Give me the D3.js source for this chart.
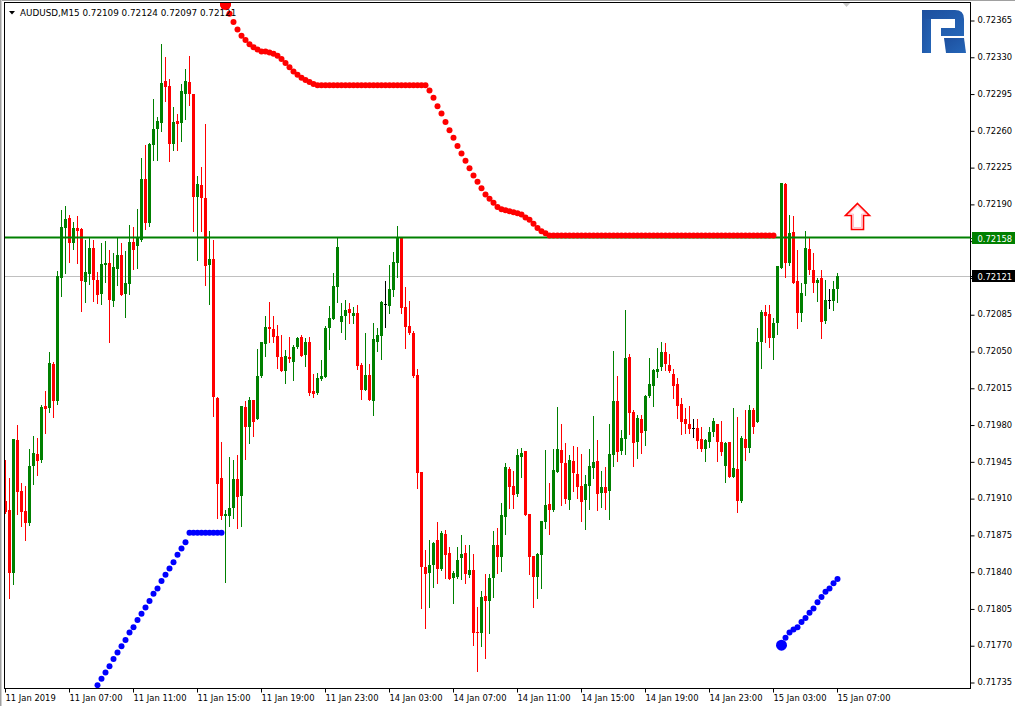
<!DOCTYPE html>
<html><head><meta charset="utf-8">
<script src="https://cdn.jsdelivr.net/npm/d3@7"></script>
<style>
html,body{margin:0;padding:0;background:#fff;}
svg{display:block;}
text{font-family:"DejaVu Sans",Verdana,sans-serif;}
</style></head>
<body>
<svg id="c" width="1015" height="706"></svg>
<script>
// ---- DATA ----
const symbolTitle = "AUDUSD,M15";
const headerValues = ["0.72109", "0.72124", "0.72097", "0.72121"];
const timeLabels = ["11 Jan 2019","11 Jan 07:00","11 Jan 11:00","11 Jan 15:00","11 Jan 19:00","11 Jan 23:00","14 Jan 03:00","14 Jan 07:00","14 Jan 11:00","14 Jan 15:00","14 Jan 19:00","14 Jan 23:00","15 Jan 03:00","15 Jan 07:00"];
const timeLabelBars = [0,16,32,48,64,80,96,112,128,144,160,176,192,208];
const priceTicks = [0.72365,0.72330,0.72295,0.72260,0.72225,0.72190,0.72155,0.72120,0.72085,0.72050,0.72015,0.71980,0.71945,0.71910,0.71875,0.71840,0.71805,0.71770,0.71735];
const levelLine = 0.72158;
const lastPrice = 0.72121;

const opens = [0.71907,0.71899,0.71839,0.71965,0.71917,0.71898,0.71886,0.71941,0.71952,0.71946,
0.71998,0.71996,0.72038,0.72002,0.72119,0.72167,0.72177,0.72153,0.72167,0.72166,
0.72116,0.72123,0.72148,0.72118,0.72104,0.72132,0.72134,0.72098,0.72128,0.72141,
0.72104,0.72114,0.72154,0.72150,0.72156,0.72214,0.72172,0.72246,0.72261,0.72267,
0.72307,0.72302,0.72247,0.72269,0.72267,0.72295,0.72306,0.72295,0.72197,0.72208,
0.72196,0.72132,0.72138,0.72005,0.71929,0.71893,0.71893,0.71901,0.71928,0.71912,
0.71997,0.71978,0.72003,0.71985,0.72026,0.72057,0.72073,0.72071,0.72064,0.72044,
0.72031,0.72044,0.72040,0.72054,0.72063,0.72046,0.72059,0.72012,0.72010,0.72023,
0.72025,0.72072,0.72080,0.72111,0.72078,0.72083,0.72090,0.72083,0.72086,0.72037,
0.72013,0.72027,0.72002,0.72059,0.72064,0.72095,0.72093,0.72108,0.72134,0.72158,
0.72092,0.72074,0.72067,0.72027,0.71935,0.71844,0.71839,0.71846,0.71870,0.71843,
0.71876,0.71858,0.71834,0.71835,0.71853,0.71858,0.71837,0.71842,0.71783,0.71782,
0.71817,0.71812,0.71834,0.71865,0.71854,0.71892,0.71938,0.71922,0.71914,0.71949,
0.71955,0.71895,0.71855,0.71835,0.71856,0.71887,0.71904,0.71899,0.71935,0.71956,
0.71943,0.71908,0.71945,0.71933,0.71922,0.71908,0.71922,0.71939,0.71945,0.71915,
0.71921,0.71917,0.71951,0.72002,0.71955,0.71966,0.72044,0.71992,0.71963,0.71985,
0.71974,0.72007,0.72017,0.72030,0.72035,0.72049,0.72037,0.72028,0.72019,0.72000,
0.71985,0.71981,0.71977,0.71977,0.71966,0.71957,0.71963,0.71973,0.71981,0.71963,
0.71941,0.71963,0.71930,0.71938,0.71907,0.71966,0.71958,0.71994,0.71982,0.72059,
0.72087,0.72085,0.72062,0.72077,0.72129,0.72209,0.72134,0.72163,0.72117,0.72086,
0.72114,0.72147,0.72127,0.72115,0.72119,0.72079,0.72099,0.72098,0.72109];

const highs = [0.71946,0.71929,0.71966,0.71980,0.71924,0.71922,0.71957,0.71969,0.71967,0.71999,
0.72012,0.72049,0.72040,0.72126,0.72184,0.72188,0.72179,0.72173,0.72178,0.72167,
0.72156,0.72158,0.72156,0.72125,0.72153,0.72155,0.72146,0.72143,0.72158,0.72153,
0.72145,0.72170,0.72168,0.72185,0.72234,0.72246,0.72248,0.72290,0.72273,0.72342,
0.72330,0.72309,0.72282,0.72276,0.72304,0.72318,0.72331,0.72295,0.72217,0.72225,
0.72266,0.72164,0.72156,0.72006,0.71963,0.71899,0.71949,0.71946,0.71951,0.71998,
0.72002,0.72006,0.72003,0.72052,0.72059,0.72083,0.72097,0.72083,0.72075,0.72065,
0.72051,0.72063,0.72056,0.72063,0.72065,0.72062,0.72063,0.72028,0.72029,0.72041,
0.72074,0.72093,0.72124,0.72158,0.72096,0.72099,0.72096,0.72092,0.72094,0.72039,
0.72067,0.72038,0.72077,0.72072,0.72098,0.72117,0.72132,0.72144,0.72169,0.72158,
0.72111,0.72098,0.72069,0.72033,0.71935,0.71861,0.71870,0.71868,0.71887,0.71879,
0.71880,0.71863,0.71841,0.71863,0.71875,0.71865,0.71865,0.71857,0.71806,0.71822,
0.71838,0.71838,0.71879,0.71882,0.71905,0.71943,0.71940,0.71936,0.71957,0.71958,
0.71955,0.71895,0.71855,0.71858,0.71888,0.71956,0.71924,0.71957,0.71997,0.71981,
0.71962,0.71951,0.71960,0.71959,0.71952,0.71932,0.71957,0.71988,0.71965,0.71936,
0.71940,0.71981,0.72050,0.72026,0.71975,0.72089,0.72047,0.71994,0.71989,0.71989,
0.72008,0.72043,0.72033,0.72053,0.72059,0.72058,0.72047,0.72033,0.72024,0.72005,
0.71996,0.71998,0.71985,0.71985,0.71978,0.71966,0.71978,0.71986,0.71981,0.71983,
0.71963,0.71963,0.71996,0.71987,0.71969,0.71994,0.71999,0.71996,0.72072,0.72089,
0.72094,0.72094,0.72081,0.72131,0.72210,0.72210,0.72179,0.72178,0.72146,0.72115,
0.72164,0.72158,0.72143,0.72119,0.72127,0.72118,0.72109,0.72117,0.72124];

const lows = [0.71896,0.71815,0.71828,0.71895,0.71883,0.71870,0.71884,0.71923,0.71932,0.71944,
0.71972,0.71992,0.71987,0.72000,0.72102,0.72124,0.72135,0.72147,0.72134,0.72088,
0.72097,0.72114,0.72098,0.72096,0.72095,0.72116,0.72059,0.72093,0.72113,0.72103,
0.72082,0.72104,0.72128,0.72129,0.72155,0.72166,0.72169,0.72232,0.72232,0.72259,
0.72288,0.72231,0.72241,0.72241,0.72250,0.72271,0.72284,0.72164,0.72137,0.72164,
0.72113,0.72095,0.71988,0.71891,0.71890,0.71830,0.71883,0.71891,0.71882,0.71883,
0.71947,0.71962,0.71969,0.71985,0.72025,0.72045,0.72059,0.72059,0.72034,0.72031,
0.72020,0.72040,0.72022,0.72053,0.72045,0.72036,0.72008,0.72006,0.72009,0.72022,
0.72025,0.72052,0.72080,0.72097,0.72068,0.72061,0.72077,0.72077,0.72033,0.72004,
0.72013,0.72003,0.71989,0.72050,0.72042,0.72073,0.72086,0.72102,0.72120,0.72086,
0.72053,0.72066,0.72025,0.71920,0.71805,0.71786,0.71806,0.71825,0.71829,0.71842,
0.71834,0.71833,0.71810,0.71834,0.71833,0.71829,0.71835,0.71770,0.71745,0.71769,
0.71758,0.71782,0.71816,0.71839,0.71841,0.71876,0.71901,0.71901,0.71912,0.71930,
0.71894,0.71838,0.71806,0.71815,0.71824,0.71882,0.71876,0.71898,0.71935,0.71903,
0.71905,0.71900,0.71917,0.71910,0.71888,0.71881,0.71900,0.71929,0.71899,0.71902,
0.71900,0.71890,0.71941,0.71945,0.71952,0.71952,0.71971,0.71941,0.71948,0.71953,
0.71961,0.72006,0.71998,0.72025,0.72032,0.72032,0.72030,0.72005,0.71986,0.71971,
0.71972,0.71972,0.71968,0.71958,0.71955,0.71945,0.71959,0.71969,0.71945,0.71951,
0.71925,0.71930,0.71930,0.71897,0.71906,0.71946,0.71954,0.71972,0.71982,0.72034,
0.72059,0.72054,0.72042,0.72066,0.72129,0.72120,0.72132,0.72115,0.72072,0.72079,
0.72103,0.72123,0.72106,0.72098,0.72062,0.72077,0.72091,0.72089,0.72097];

const closes = [0.71897,0.71839,0.71966,0.71916,0.71897,0.71886,0.71941,0.71953,0.71945,0.71997,
0.71995,0.72039,0.72002,0.72121,0.72168,0.72176,0.72153,0.72167,0.72164,0.72117,
0.72125,0.72148,0.72118,0.72103,0.72133,0.72134,0.72099,0.72130,0.72141,0.72103,
0.72115,0.72154,0.72146,0.72158,0.72214,0.72172,0.72247,0.72261,0.72269,0.72305,
0.72301,0.72247,0.72268,0.72266,0.72297,0.72307,0.72295,0.72197,0.72209,0.72196,
0.72131,0.72138,0.72006,0.71923,0.71893,0.71895,0.71901,0.71928,0.71911,0.71998,
0.71978,0.72003,0.71982,0.72026,0.72059,0.72073,0.72071,0.72063,0.72044,0.72031,
0.72045,0.72042,0.72054,0.72062,0.72045,0.72059,0.72010,0.72009,0.72024,0.72026,
0.72072,0.72081,0.72112,0.72149,0.72083,0.72089,0.72086,0.72086,0.72036,0.72013,
0.72027,0.72003,0.72061,0.72065,0.72097,0.72095,0.72109,0.72135,0.72158,0.72091,
0.72073,0.72067,0.72026,0.71934,0.71844,0.71838,0.71846,0.71867,0.71843,0.71877,
0.71856,0.71833,0.71839,0.71851,0.71857,0.71838,0.71842,0.71782,0.71782,0.71816,
0.71812,0.71834,0.71865,0.71854,0.71894,0.71940,0.71921,0.71913,0.71951,0.71953,
0.71894,0.71854,0.71835,0.71857,0.71888,0.71903,0.71899,0.71937,0.71957,0.71943,
0.71909,0.71946,0.71934,0.71921,0.71906,0.71923,0.71941,0.71944,0.71914,0.71921,
0.71915,0.71952,0.72002,0.71954,0.71967,0.72043,0.71991,0.71962,0.71986,0.71972,
0.72007,0.72019,0.72032,0.72033,0.72049,0.72038,0.72031,0.72017,0.71998,0.71982,
0.71981,0.71976,0.71977,0.71964,0.71957,0.71965,0.71973,0.71983,0.71963,0.71954,
0.71962,0.71930,0.71939,0.71907,0.71967,0.71958,0.71994,0.71978,0.72059,0.72087,
0.72083,0.72062,0.72077,0.72131,0.72210,0.72134,0.72162,0.72115,0.72086,0.72105,
0.72148,0.72127,0.72115,0.72118,0.72078,0.72099,0.72099,0.72109,0.72121];

// red trailing dots (start bar 55, first is the large signal dot)
const redDotsStart = 55;
const redDots = [0.72380,0.72371,0.72363,0.72356,0.72350,0.72346,0.72342,0.72339,0.72337,0.72335,
0.72335,0.72334,0.72333,0.72331,0.72328,0.72324,0.72320,0.72316,0.72313,0.72310,
0.72308,0.72306,0.72304,0.72303,0.72303,0.72303,0.72303,0.72303,0.72303,0.72303,
0.72303,0.72303,0.72303,0.72303,0.72303,0.72303,0.72303,0.72303,0.72303,0.72303,
0.72303,0.72303,0.72303,0.72303,0.72303,0.72303,0.72303,0.72303,0.72303,0.72303,
0.72303,0.72298,0.72291,0.72283,0.72276,0.72268,0.72260,0.72253,0.72245,0.72238,
0.72231,0.72224,0.72217,0.72211,0.72205,0.72199,0.72195,0.72191,0.72187,0.72185,
0.72184,0.72183,0.72182,0.72181,0.72180,0.72177,0.72175,0.72171,0.72167,0.72164,
0.72162,0.72160,0.72160,0.72160,0.72160,0.72160,0.72160,0.72160,0.72160,0.72160,
0.72160,0.72160,0.72160,0.72160,0.72160,0.72160,0.72160,0.72160,0.72160,0.72160,
0.72160,0.72160,0.72160,0.72160,0.72160,0.72160,0.72160,0.72160,0.72160,0.72160,
0.72160,0.72160,0.72160,0.72160,0.72160,0.72160,0.72160,0.72160,0.72160,0.72160,
0.72160,0.72160,0.72160,0.72160,0.72160,0.72160,0.72160,0.72160,0.72160,0.72160,
0.72160,0.72160,0.72160,0.72160,0.72160,0.72160,0.72160,0.72160];
const redBigIdx = [0];

// blue dots, lower-left run
const blueDotsAStart = 22;
const blueDotsA = [0.71725,0.71732,0.71738,0.71744,0.71750,0.71757,0.71763,0.71769,0.71775,0.71782,
0.71787,0.71794,0.71800,0.71806,0.71812,0.71819,0.71824,0.71831,0.71837,0.71843,
0.71849,0.71856,0.71862,0.71868,0.71877,0.71877,0.71877,0.71877,0.71877,0.71877,
0.71877,0.71877,0.71877];
// blue dots, lower-right run (first is the large signal dot)
const blueDotsBStart = 194;
const blueDotsB = [0.71770,0.71777,0.71782,0.71785,0.71787,0.71792,0.71796,0.71801,0.71805,0.71811,
0.71816,0.71821,0.71824,0.71829,0.71833];

// ---- CHART ----
const W = 1015, H = 706;
const plot = {l: 4.5, t: 2.5, r: 970.5, b: 688.5};
const svg = d3.select("#c");

const x = d3.scaleLinear().domain([0, 208]).range([5.5, 837.5]);
const y = d3.scaleLinear().domain([0.71735, 0.72365]).range([682, 20]);

svg.append("rect").attr("width", W).attr("height", H).attr("fill", "#fff");
// window frame
svg.append("line").attr("x1",0).attr("x2",W).attr("y1",0.5).attr("y2",0.5).attr("stroke","#a0a0a0");
svg.append("line").attr("x1",0.5).attr("x2",0.5).attr("y1",0).attr("y2",H).attr("stroke","#a0a0a0");
svg.append("line").attr("x1",1.5).attr("x2",1.5).attr("y1",0).attr("y2",H).attr("stroke","#d0d0d0");

const defs = svg.append("defs");
defs.append("clipPath").attr("id","pc").append("rect")
  .attr("x", plot.l+0.5).attr("y", plot.t+0.5)
  .attr("width", plot.r - plot.l - 1).attr("height", plot.b - plot.t - 1);
const lg = defs.append("linearGradient").attr("id","lg").attr("x1","0").attr("y1","0").attr("x2","1").attr("y2","1");
lg.append("stop").attr("offset","0").attr("stop-color","#1d4f9e");
lg.append("stop").attr("offset","1").attr("stop-color","#2566b8");

const g = svg.append("g").attr("clip-path","url(#pc)");

// last price grey line
g.append("line").attr("x1", plot.l).attr("x2", plot.r)
  .attr("y1", Math.round(y(lastPrice)) + 0.5).attr("y2", Math.round(y(lastPrice)) + 0.5)
  .attr("stroke", "#c0c0c0").attr("stroke-width", 1);

// candles
const bars = d3.range(opens.length).map(i => ({i, o: opens[i], h: highs[i], l: lows[i], c: closes[i]}));
const colorOf = d => d.c > d.o ? "#008000" : (d.c < d.o ? "#ff0000" : "#000000");

g.selectAll("line.wick").data(bars).join("line").attr("class","wick")
  .attr("x1", d => x(d.i)).attr("x2", d => x(d.i))
  .attr("y1", d => Math.round(y(d.h))).attr("y2", d => Math.round(y(d.l)) + 1)
  .attr("stroke", colorOf).attr("stroke-width", 1);

g.selectAll("rect.body").data(bars).join("rect").attr("class","body")
  .attr("x", d => x(d.i) - 1.5)
  .attr("width", 3)
  .attr("y", d => Math.round(y(Math.max(d.o, d.c))))
  .attr("height", d => Math.max(1, Math.round(y(Math.min(d.o, d.c))) - Math.round(y(Math.max(d.o, d.c)))))
  .attr("fill", colorOf);

// level line
g.append("line").attr("x1", plot.l).attr("x2", plot.r)
  .attr("y1", y(levelLine)).attr("y2", y(levelLine))
  .attr("stroke", "#008000").attr("stroke-width", 2);

// red dots
const redData = redDots.map((v, k) => ({i: redDotsStart + k, v, big: redBigIdx.includes(k)}));
g.selectAll("circle.red").data(redData).join("circle").attr("class","red")
  .attr("cx", d => x(d.i)).attr("cy", d => y(d.v))
  .attr("r", d => d.big ? 5.5 : 3).attr("fill", "#ff0000");

// blue dots
const blueData = blueDotsA.map((v, k) => ({i: blueDotsAStart + k, v, big: false}))
  .concat(blueDotsB.map((v, k) => ({i: blueDotsBStart + k, v, big: k === 0})));
g.selectAll("circle.blue").data(blueData).join("circle").attr("class","blue")
  .attr("cx", d => x(d.i)).attr("cy", d => y(d.v))
  .attr("r", d => d.big ? 5.5 : 3).attr("fill", "#0000ff");

// arrow (up signal)
g.append("path")
  .attr("d", "M857.5,203.5 L869.5,215.5 L863.5,215.5 L863.5,229.5 L851.5,229.5 L851.5,215.5 L845.5,215.5 Z")
  .attr("fill", "#fff").attr("stroke", "#ff0000").attr("stroke-width", 1.6);
g.append("path")
  .attr("d", "M857.5,206 L866,214 L861.5,214 L861.5,227.5 L853.5,227.5 L853.5,214 L849,214 Z")
  .attr("fill", "none").attr("stroke", "#ffb0c0").attr("stroke-width", 0.8);

// shift marker
svg.append("path").attr("d","M842,2 L851,2 L846.5,7 Z").attr("fill","#c8c8c8");

// logo
const logo = svg.append("g").attr("fill","url(#lg)");
logo.append("rect").attr("x",922).attr("y",10).attr("width",9).attr("height",43);
logo.append("path").attr("d","M922,10 H955 Q964,10 964,19 V36 H941 V28 H955 V19 H922 Z");
logo.append("path").attr("d","M944,38 H964 L966,53 H946 Z");

// header
svg.append("path").attr("d","M9,11 L15,11 L12,14.5 Z").attr("fill","#000");
svg.append("text").attr("x",20).attr("y",15.5).attr("font-size",8.8).attr("fill","#000")
  .text(symbolTitle + "  " + headerValues.join(" "));
// redraw big red dot on top of header text
svg.append("g").attr("clip-path","url(#pc)").selectAll("circle").data(redData.filter(d => d.big)).join("circle")
  .attr("cx", d => x(d.i)).attr("cy", d => y(d.v)).attr("r", 5.5).attr("fill","#ff0000");

// frame
svg.append("rect").attr("x", plot.l).attr("y", plot.t)
  .attr("width", plot.r - plot.l).attr("height", plot.b - plot.t)
  .attr("fill","none").attr("stroke","#000").attr("stroke-width",1);

// price axis
const yAxis = d3.axisRight(y).tickValues(priceTicks).tickSize(4).tickPadding(3)
  .tickFormat(d3.format(".5f"));
const ya = svg.append("g").attr("transform", `translate(${plot.r},0)`).call(yAxis);
ya.select(".domain").remove();
ya.selectAll("line").attr("stroke","#000").attr("transform","translate(0,0.5)");
ya.selectAll("text").attr("font-size",8.4).attr("fill","#000").attr("font-family","DejaVu Sans");

// time axis
const xAxis = d3.axisBottom(x).tickValues(timeLabelBars).tickSize(4).tickPadding(3)
  .tickFormat((d, k) => timeLabels[k]);
const xa = svg.append("g").attr("transform", `translate(-0.5,${plot.b})`).call(xAxis);
xa.select(".domain").remove();
xa.selectAll("line").attr("stroke","#000");
xa.selectAll("text").attr("font-size",8.4).attr("fill","#000").attr("text-anchor","start")
  .attr("font-family","DejaVu Sans");

// level label (green) and last price label (black)
function axisLabel(v, bg, fg) {
  const yy = Math.round(y(v));
  svg.append("rect").attr("x", plot.r + 1.5).attr("y", yy - 6).attr("width", 44).attr("height", 12).attr("fill", bg);
  svg.append("line").attr("x1", plot.r).attr("x2", plot.r + 4).attr("y1", yy + 0.5).attr("y2", yy + 0.5).attr("stroke", bg);
  svg.append("text").attr("x", plot.r + 7).attr("y", yy + 4).attr("font-size", 8.4).attr("fill", fg)
    .attr("font-family","DejaVu Sans").text(d3.format(".5f")(v));
}
axisLabel(levelLine, "#008000", "#ffffff");
axisLabel(lastPrice, "#000000", "#ffffff");
</script>
</body></html>
